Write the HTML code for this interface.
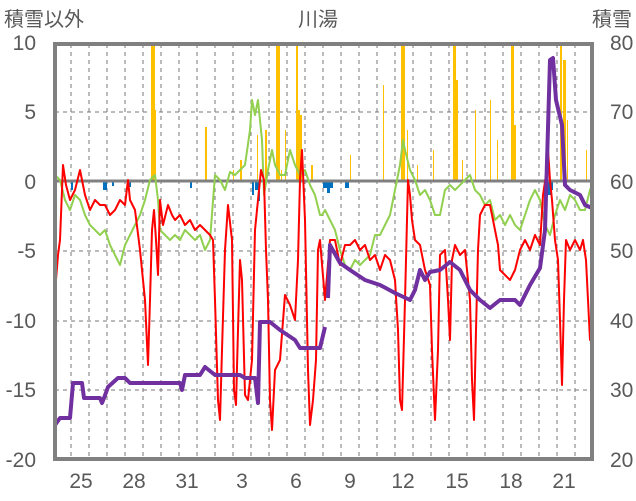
<!DOCTYPE html>
<html><head><meta charset="utf-8"><style>
html,body{margin:0;padding:0;background:#fff;}
svg{display:block;font-family:"Liberation Sans","Noto Sans CJK JP",sans-serif;}
</style></head><body>
<svg width="636" height="501" viewBox="0 0 636 501">
<g fill="#595959" font-size="20">
<text x="4" y="26">積雪以外</text>
<text x="318" y="26" text-anchor="middle">川湯</text>
<text x="632" y="26" text-anchor="end">積雪</text>
<g text-anchor="end" font-size="21">
<text x="36" y="50">10</text><text x="36" y="119">5</text><text x="36" y="189">0</text>
<text x="36" y="258">-5</text><text x="36" y="328">-10</text><text x="36" y="397">-15</text><text x="36" y="467">-20</text>
</g>
<g text-anchor="start" font-size="21">
<text x="610" y="50">80</text><text x="610" y="119">70</text><text x="610" y="189">60</text>
<text x="610" y="258">50</text><text x="610" y="328">40</text><text x="610" y="397">30</text><text x="610" y="467">20</text>
</g>
<g text-anchor="middle" font-size="21">
<text x="81" y="488">25</text><text x="134" y="488">28</text><text x="187" y="488">31</text><text x="242" y="488">3</text><text x="296" y="488">6</text><text x="350" y="488">9</text><text x="403" y="488">12</text><text x="457" y="488">15</text><text x="511" y="488">18</text><text x="564" y="488">21</text>
</g>
</g>
<g stroke="#777" stroke-width="1" stroke-dasharray="4,4">
<line x1="55" x2="592" y1="112" y2="112"/><line x1="55" x2="592" y1="251" y2="251"/><line x1="55" x2="592" y1="321" y2="321"/><line x1="55" x2="592" y1="390" y2="390"/>
<line x1="71" x2="71" y1="44" y2="459"/><line x1="89" x2="89" y1="44" y2="459"/><line x1="107" x2="107" y1="44" y2="459"/><line x1="125" x2="125" y1="44" y2="459"/><line x1="143" x2="143" y1="44" y2="459"/><line x1="161" x2="161" y1="44" y2="459"/><line x1="179" x2="179" y1="44" y2="459"/><line x1="197" x2="197" y1="44" y2="459"/><line x1="215" x2="215" y1="44" y2="459"/><line x1="233" x2="233" y1="44" y2="459"/><line x1="251" x2="251" y1="44" y2="459"/><line x1="269" x2="269" y1="44" y2="459"/><line x1="287" x2="287" y1="44" y2="459"/><line x1="305" x2="305" y1="44" y2="459"/><line x1="323" x2="323" y1="44" y2="459"/><line x1="341" x2="341" y1="44" y2="459"/><line x1="359" x2="359" y1="44" y2="459"/><line x1="377" x2="377" y1="44" y2="459"/><line x1="395" x2="395" y1="44" y2="459"/><line x1="413" x2="413" y1="44" y2="459"/><line x1="431" x2="431" y1="44" y2="459"/><line x1="449" x2="449" y1="44" y2="459"/><line x1="467" x2="467" y1="44" y2="459"/><line x1="485" x2="485" y1="44" y2="459"/><line x1="503" x2="503" y1="44" y2="459"/><line x1="521" x2="521" y1="44" y2="459"/><line x1="539" x2="539" y1="44" y2="459"/><line x1="557" x2="557" y1="44" y2="459"/><line x1="575" x2="575" y1="44" y2="459"/>
</g>
<g fill="#FFC000">
<rect x="151" y="43" width="4" height="138"/><rect x="154" y="110" width="2" height="71"/><rect x="205" y="127" width="2" height="54"/><rect x="233" y="170" width="1" height="11"/><rect x="240" y="160" width="2" height="21"/><rect x="257" y="135" width="1" height="46"/><rect x="265" y="130" width="2" height="51"/><rect x="276" y="43" width="4" height="138"/><rect x="281" y="170" width="1" height="11"/><rect x="285" y="130" width="1" height="51"/><rect x="296" y="43" width="2" height="138"/><rect x="298" y="110" width="2" height="71"/><rect x="300" y="115" width="2" height="66"/><rect x="311" y="165" width="2" height="16"/><rect x="350" y="155" width="1" height="26"/><rect x="383" y="85" width="1" height="96"/><rect x="401" y="43" width="4" height="138"/><rect x="407" y="130" width="1" height="51"/><rect x="417" y="165" width="1" height="16"/><rect x="433" y="150" width="1" height="31"/><rect x="453" y="43" width="3" height="138"/><rect x="456" y="80" width="2" height="101"/><rect x="462" y="160" width="1" height="21"/><rect x="475" y="110" width="1" height="71"/><rect x="490" y="100" width="1" height="81"/><rect x="497" y="140" width="1" height="41"/><rect x="511" y="43" width="3" height="138"/><rect x="514" y="125" width="2" height="56"/><rect x="549" y="170" width="1" height="11"/><rect x="560" y="43" width="2" height="138"/><rect x="563" y="60" width="3" height="121"/><rect x="567" y="120" width="1" height="61"/><rect x="586" y="150" width="1" height="31"/>
</g>
<g fill="#0070C0">
<rect x="71" y="181" width="2" height="9"/><rect x="103" y="181" width="4" height="9"/><rect x="112" y="181" width="2" height="5"/><rect x="129" y="181" width="2" height="6"/><rect x="190" y="181" width="2" height="7"/><rect x="252" y="181" width="2" height="14"/><rect x="255" y="181" width="3" height="9"/><rect x="258" y="181" width="2" height="20"/><rect x="323" y="181" width="4" height="7"/><rect x="327" y="181" width="3" height="12"/><rect x="330" y="181" width="3" height="7"/><rect x="345" y="181" width="4" height="7"/><rect x="544" y="181" width="3" height="14"/><rect x="548" y="181" width="3" height="14"/><rect x="551" y="181" width="2" height="9"/>
</g>
<line x1="55" x2="592" y1="181" y2="181" stroke="#808080" stroke-width="3"/>
<polyline fill="none" stroke="#92D050" stroke-width="2" stroke-linejoin="round" points="55,175 60,180 65,200 70,210 75,195 80,200 85,215 90,225 95,230 100,235 105,230 110,245 115,255 120,265 125,245 130,235 135,225 140,215 145,200 150,180 155,175 158,200 160,230 165,235 170,240 175,235 180,240 185,230 190,235 195,240 200,235 205,250 210,240 215,175 220,180 225,190 230,172 235,175 240,170 245,165 250,130 252,100 255,115 258,100 260,120 262,140 264,195 268,170 272,150 275,165 280,175 285,175 290,150 295,165 300,175 305,170 310,185 315,195 320,215 322,215 325,210 330,220 335,230 340,250 345,265 350,270 355,260 360,265 365,260 370,255 375,235 380,235 385,225 390,215 395,190 400,165 403,140 405,150 410,170 415,180 420,195 425,190 430,200 435,215 440,215 445,190 450,185 455,190 460,185 465,180 470,175 475,190 480,195 485,205 490,200 495,220 500,215 505,225 510,215 515,225 520,230 525,215 530,200 535,190 540,200 545,225 550,235 555,215 560,200 565,210 570,195 575,200 580,210 585,210 590,190 592,185"/>
<polyline fill="none" stroke="#FF0000" stroke-width="2" stroke-linejoin="round" points="55,292 58,255 60,240 63,165 66,185 70,200 75,190 80,170 85,195 90,210 95,200 100,205 105,205 110,215 115,210 120,200 125,205 128,180 130,200 135,210 140,250 145,300 148,365 150,300 152,230 154,210 156,240 158,275 160,200 163,225 168,205 172,215 175,220 180,215 185,225 190,220 195,230 200,225 205,230 210,235 213,240 215,300 218,400 220,420 222,350 225,250 228,205 232,240 234,390 236,405 238,330 240,260 242,280 245,395 248,400 252,360 255,230 258,200 261,170 264,180 266,250 268,300 270,400 272,430 275,370 280,360 285,295 290,305 295,320 298,260 300,180 302,150 305,220 308,370 310,425 313,400 316,360 318,250 320,240 325,300 330,240 335,240 340,265 345,245 350,245 355,240 360,250 365,245 370,260 375,255 380,270 385,255 390,260 395,280 398,330 400,400 402,410 405,300 408,180 410,195 412,220 415,240 420,245 425,270 430,285 432,350 435,420 438,350 440,255 445,250 448,300 450,340 452,260 455,245 460,255 465,250 470,300 472,380 474,420 476,330 478,250 480,215 485,205 490,205 495,230 498,245 500,270 505,275 510,280 515,270 520,250 525,240 530,250 535,235 540,245 543,195 546,175 548,150 550,180 552,200 555,240 558,260 560,320 562,385 564,300 566,240 570,250 575,240 580,250 583,240 586,260 588,300 590,340 592,300"/>
<g fill="none" stroke="#7030A0" stroke-width="4" stroke-linejoin="round">
<polyline points="55,425 60,418 70,418 73,383 82,383 84,398 100,398 102,403 104,398 108,387 118,378 125,378 130,383 180,383 182,390 185,375 200,375 205,367 215,375 240,375 245,378 255,378 258,403 260,322 270,322 280,330 295,340 300,348 320,348 325,327"/>
<polyline points="328,298 330,245 340,263 350,270 365,280 380,285 395,293 410,300 415,290 420,270 425,280 430,272 440,270 450,262 460,270 470,290 480,300 490,308 500,300 515,300 520,305 530,285 540,268 545,230 550,60 553,58 556,100 562,125 565,185 570,190 580,195 585,205 592,208"/>
</g>
<rect x="55" y="44" width="537" height="415" fill="none" stroke="#808080" stroke-width="4"/>
</svg>
</body></html>
